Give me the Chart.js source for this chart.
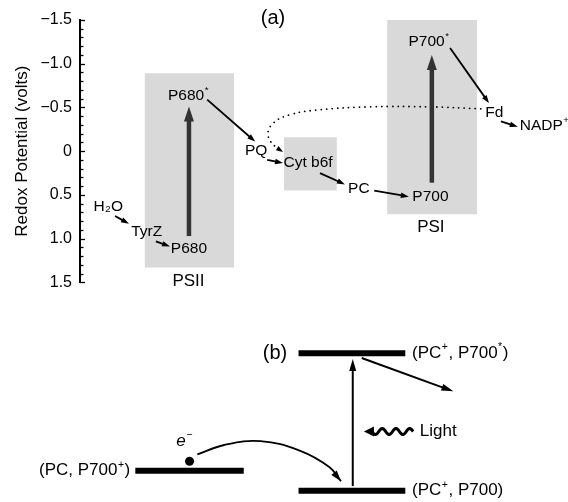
<!DOCTYPE html>
<html>
<head>
<meta charset="utf-8">
<script src="https://cdn.jsdelivr.net/npm/chart.js@4.4.0/dist/chart.umd.min.js"></script>
<style>
  body { margin: 0; background: #fff; }
  #wrapA { position: absolute; left: 0; top: 0; width: 568px; height: 300px; }
  #wrapB { position: absolute; left: 0; top: 300px; width: 568px; height: 202px; }
</style>
</head>
<body>
<div id="wrapA"><canvas id="chartA" width="568" height="300"></canvas></div>
<div id="wrapB"><canvas id="chartB" width="568" height="202"></canvas></div>
<script>
// ---------- (a) Z-scheme data ----------
const yTicks = [-1.5, -1.0, -0.5, 0, 0.5, 1.0, 1.5];

// carriers: name, position along the path, redox potential (V)
const species   = ['H_2O', 'TyrZ', 'P680', 'P680^*', 'PQ', 'Cyt b6f', 'PC', 'P700', 'P700^*', 'Fd', 'NADP^+'];
const speciesX  = [0.59, 1.39, 2.27, 2.26, 3.67, 4.75, 5.81, 7.30, 7.27, 8.63, 9.68];
const potential = [0.63, 0.92, 1.12, -0.64, 0.00, 0.135, 0.43, 0.52, -1.25, -0.44, -0.29];

// protein complexes (grey boxes)
const complexNames  = ['PSII', '', 'PSI'];
const complexLeft   = [1.35, 4.25, 6.40];
const complexRight  = [3.21, 5.35, 8.27];
const complexTop    = [-0.89, -0.16, -1.50];
const complexBottom = [1.33, 0.45, 0.72];
const complexLabelX = [2.26, null, 7.31];
const complexLabelY = [1.49, null, 0.87];

// electron transfer steps
const stepFromX = [0.73, 1.58, 2.65, 3.90, 5.00, 6.13, 7.71, 8.77];
const stepFromY = [0.74, 1.03, -0.59, 0.10, 0.25, 0.45, -1.18, -0.34];
const stepToX   = [1.02, 1.875, 3.65, 4.23, 5.52, 6.85, 8.52, 9.12];
const stepToY   = [0.83, 1.09, -0.11, 0.135, 0.38, 0.52, -0.55, -0.28];

// light excitation (P680 -> P680*, P700 -> P700*)
const exciteX    = [2.27, 7.33];
const exciteFrom = [0.97, 0.36];
const exciteTo   = [-0.51, -1.10];

// cyclic electron flow, Fd back to Cyt b6f
const cyclicX = [8.35, 7.29, 6.04, 5.00, 4.375, 4.02, 3.92, 4.08, 4.23];
const cyclicY = [-0.485, -0.507, -0.507, -0.473, -0.417, -0.316, -0.18, -0.045, 0.01];

// ---------- (b) energy levels ----------
const stateNames  = ['(PC, P700^+)', '(PC^+, P700)', '(PC^+, P700^*)'];
const stateEnergy = [1.39, 0.35, 7.48];
const stateFrom   = [2.34, 5.26, 5.26];
const stateTo     = [4.28, 7.17, 7.17];
const stateLabelX = [2.25, 7.29, 7.29];

const hopX = [3.45, 3.93, 4.58, 5.28, 5.81, 6.02];
const hopY = [2.23, 2.72, 2.92, 2.43, 1.58, 0.84];
const electronX = [3.31];
const electronY = [1.88];

const FONT = '"Liberation Sans", Arial, Helvetica, sans-serif';

function drawRich(ctx, text, x, y, size, align, italic) {
  const parts = [];
  for (let i = 0; i < text.length; i++) {
    const c = text[i];
    if ((c === '^' || c === '_') && i + 1 < text.length) {
      parts.push({ t: text[i + 1], m: c });
      i++;
    } else if (parts.length && parts[parts.length - 1].m === '') {
      parts[parts.length - 1].t += c;
    } else {
      parts.push({ t: c, m: '' });
    }
  }
  const font = (s, it) => (it ? 'italic ' : '') + s + 'px ' + FONT;
  const small = size * 0.62;
  let w = 0;
  parts.forEach(p => {
    ctx.font = font(p.m ? small : size, italic && !p.m);
    p.w = ctx.measureText(p.t).width + (p.m ? 1 : 0);
    w += p.w;
  });
  let cx = align === 'center' ? x - w / 2 : align === 'right' ? x - w : x;
  ctx.textAlign = 'left';
  ctx.textBaseline = 'middle';
  ctx.fillStyle = '#000';
  parts.forEach(p => {
    ctx.font = font(p.m ? small : size, italic && !p.m);
    const dy = p.m === '^' ? -size * 0.34 : p.m === '_' ? size * 0.22 : 0;
    ctx.fillText(p.t, cx + (p.m ? 0.5 : 0), y + dy);
    cx += p.w;
  });
}

function arrowHead(ctx, x, y, a, hl, hw, color) {
  const c = Math.cos(a), s = Math.sin(a);
  ctx.fillStyle = color;
  ctx.beginPath();
  ctx.moveTo(x, y);
  ctx.lineTo(x - hl * c + hw / 2 * s, y - hl * s - hw / 2 * c);
  ctx.lineTo(x - hl * c - hw / 2 * s, y - hl * s + hw / 2 * c);
  ctx.closePath();
  ctx.fill();
}

function arrow(ctx, x1, y1, x2, y2, lw, hl, hw, color) {
  const a = Math.atan2(y2 - y1, x2 - x1);
  ctx.strokeStyle = color;
  ctx.lineWidth = lw;
  ctx.lineCap = 'butt';
  ctx.beginPath();
  ctx.moveTo(x1, y1);
  ctx.lineTo(x2 - (hl - 1) * Math.cos(a), y2 - (hl - 1) * Math.sin(a));
  ctx.stroke();
  arrowHead(ctx, x2, y2, a, hl, hw, color);
}

// --- overlay for (a): inner ticks, arrows, labels ---
const overlayA = {
  id: 'overlayA',
  afterDatasetsDraw(chart) {
    const { ctx, chartArea, scales: { x, y } } = chart;
    ctx.save();
    // tick marks pointing inwards, every 0.1 V
    ctx.strokeStyle = '#000';
    ctx.lineWidth = 1.3;
    for (let i = -15; i <= 15; i++) {
      const py = Math.round(y.getPixelForValue(i / 10)) + 0.5;
      const len = i % 5 === 0 ? 5 : 3.5;
      ctx.beginPath();
      ctx.moveTo(chartArea.left, py);
      ctx.lineTo(chartArea.left + len, py);
      ctx.stroke();
    }
    // excitation arrows
    exciteX.forEach((v, i) => {
      arrow(ctx, x.getPixelForValue(v), y.getPixelForValue(exciteFrom[i]),
        x.getPixelForValue(v), y.getPixelForValue(exciteTo[i]), 4.5, 15, 10, '#333');
    });
    // transfer arrows
    stepFromX.forEach((v, i) => {
      arrow(ctx, x.getPixelForValue(v), y.getPixelForValue(stepFromY[i]),
        x.getPixelForValue(stepToX[i]), y.getPixelForValue(stepToY[i]), 1.8, 8, 5.5, '#000');
    });
    // head of the cyclic path
    const n = cyclicX.length;
    const ex = x.getPixelForValue(cyclicX[n - 1]), ey = y.getPixelForValue(cyclicY[n - 1]);
    const sx = x.getPixelForValue(cyclicX[n - 2]), sy = y.getPixelForValue(cyclicY[n - 2]);
    arrowHead(ctx, ex, ey, Math.atan2(ey - sy, ex - sx), 7, 5, '#000');
    // carrier labels
    species.forEach((s, i) => {
      drawRich(ctx, s, x.getPixelForValue(speciesX[i]), y.getPixelForValue(potential[i]), 15.5, 'center');
    });
    complexNames.forEach((s, i) => {
      if (!s) return;
      drawRich(ctx, s, x.getPixelForValue(complexLabelX[i]), y.getPixelForValue(complexLabelY[i]), 17, 'center');
    });
    drawRich(ctx, '(a)', x.getPixelForValue(4.02), y.getPixelForValue(-1.52), 20, 'center');
    ctx.restore();
  }
};

// --- overlay for (b): arrows and labels ---
const overlayB = {
  id: 'overlayB',
  afterDatasetsDraw(chart) {
    const { ctx, scales: { x, y } } = chart;
    ctx.save();
    // excitation by light
    arrow(ctx, x.getPixelForValue(6.23), y.getPixelForValue(0.59),
      x.getPixelForValue(6.23), y.getPixelForValue(7.18), 2, 12, 7, '#000');
    // transfer out of P700*
    arrow(ctx, x.getPixelForValue(6.39), y.getPixelForValue(7.23),
      x.getPixelForValue(8.03), y.getPixelForValue(5.50), 2, 12, 7, '#000');
    // head of electron hop
    const n = hopX.length;
    const ex = x.getPixelForValue(hopX[n - 1]), ey = y.getPixelForValue(hopY[n - 1]);
    const sx = x.getPixelForValue(hopX[n - 2]), sy = y.getPixelForValue(hopY[n - 2]);
    arrowHead(ctx, ex, ey, Math.atan2(ey - sy, ex - sx), 11, 7, '#000');
    // wavy "light" arrow
    const x1 = x.getPixelForValue(7.31), x2 = x.getPixelForValue(6.43), ly = y.getPixelForValue(3.42);
    const len = x1 - (x2 + 8);
    ctx.strokeStyle = '#000';
    ctx.lineWidth = 3;
    ctx.lineJoin = 'round';
    ctx.beginPath();
    for (let t = 0; t <= len; t += 0.5) {
      const py = ly - 3 * Math.sin(t / len * 3 * Math.PI * 2);
      if (t === 0) ctx.moveTo(x1 - t, py); else ctx.lineTo(x1 - t, py);
    }
    ctx.stroke();
    arrowHead(ctx, x2, ly, Math.PI, 10, 10, '#000');
    drawRich(ctx, 'Light', x.getPixelForValue(7.43), ly, 17, 'left');
    // state labels
    stateNames.forEach((s, i) => {
      drawRich(ctx, s, x.getPixelForValue(stateLabelX[i]), y.getPixelForValue(stateEnergy[i]), 17, i === 0 ? 'right' : 'left');
    });
    drawRich(ctx, '(b)', x.getPixelForValue(4.84), y.getPixelForValue(7.48), 20, 'center');
    drawRich(ctx, 'e^\u2212', x.getPixelForValue(3.22), y.getPixelForValue(2.92), 17, 'center', true);
    ctx.restore();
  }
};

const boxSets = complexLeft.map((l, i) => ({
  data: [
    { x: l, y: complexTop[i] }, { x: complexRight[i], y: complexTop[i] },
    { x: complexRight[i], y: complexBottom[i] }, { x: l, y: complexBottom[i] },
    { x: l, y: complexTop[i] }
  ],
  fill: 'shape',
  backgroundColor: '#d9d9d9',
  borderColor: 'rgba(0,0,0,0)',
  borderWidth: 0,
  order: 5
}));

new Chart(document.getElementById('chartA'), {
  type: 'line',
  data: {
    datasets: [
      ...boxSets,
      {
        data: cyclicX.map((v, i) => ({ x: v, y: cyclicY[i] })),
        borderColor: '#000',
        borderWidth: 1.8,
        borderDash: [0.01, 5.5],
        borderCapStyle: 'round',
        tension: 0.45,
        fill: false,
        order: 1
      }
    ]
  },
  options: {
    responsive: false,
    animation: false,
    layout: { padding: { top: 20, bottom: 13, right: 8, left: 0 } },
    elements: { point: { radius: 0 }, line: { tension: 0 } },
    plugins: { legend: { display: false }, tooltip: { enabled: false } },
    scales: {
      x: { type: 'linear', min: 0, max: 10, display: false },
      y: {
        type: 'linear',
        reverse: true,
        min: -1.5,
        max: 1.5,
        afterBuildTicks: s => { s.ticks = yTicks.map(v => ({ value: v })); },
        afterFit: s => { s.width = 80; },
        grid: { display: false, drawTicks: false },
        border: { display: true, color: '#000', width: 2 },
        ticks: {
          color: '#000',
          padding: 8,
          font: { size: 16, family: FONT },
          callback: v => v === 0 ? '0' : (v < 0 ? '\u2212' : '') + Math.abs(v).toFixed(1)
        },
        title: {
          display: true,
          text: 'Redox Potential (volts)',
          color: '#000',
          font: { size: 17, family: FONT },
          padding: { top: 12, bottom: 0 }
        }
      }
    }
  },
  plugins: [overlayA]
});

new Chart(document.getElementById('chartB'), {
  type: 'line',
  data: {
    datasets: [
      ...stateEnergy.map((e, i) => ({
        data: [{ x: stateFrom[i], y: e }, { x: stateTo[i], y: e }],
        borderColor: '#000',
        borderWidth: 6,
        borderCapStyle: 'butt'
      })),
      {
        data: hopX.map((v, i) => ({ x: v, y: hopY[i] })),
        borderColor: '#000',
        borderWidth: 1.8,
        tension: 0.4
      },
      {
        data: electronX.map((v, i) => ({ x: v, y: electronY[i] })),
        showLine: false,
        pointRadius: 4.5,
        pointBackgroundColor: '#000',
        pointBorderWidth: 0
      }
    ]
  },
  options: {
    responsive: false,
    animation: false,
    layout: { padding: 0 },
    elements: { point: { radius: 0 }, line: { tension: 0 } },
    plugins: { legend: { display: false }, tooltip: { enabled: false } },
    scales: {
      x: { type: 'linear', min: 0, max: 10, display: false },
      y: { type: 'linear', min: 0, max: 10, display: false }
    }
  },
  plugins: [overlayB]
});
</script>
</body>
</html>
